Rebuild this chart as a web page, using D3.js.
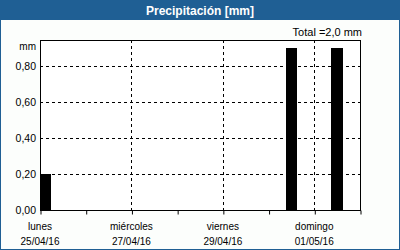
<!DOCTYPE html>
<html>
<head>
<meta charset="utf-8">
<script src="https://d3js.org/d3.v7.min.js"></script>
<style>
  body { margin: 0; background: #fff; }
  text { font-family: "Liberation Sans", Arial, sans-serif; }
</style>
</head>
<body>
<svg id="chart" width="400" height="250"></svg>
<script>
// data
var barTimes = ["2016-04-25T03:00", "2016-04-30T12:00", "2016-05-01T12:00"];
var barValues = [0.2, 0.9, 0.9];
var dayNames = ["lunes", "miércoles", "viernes", "domingo"];
var dayDates = ["25/04/16", "27/04/16", "29/04/16", "01/05/16"];
var labelDays = ["2016-04-25", "2016-04-27", "2016-04-29", "2016-05-01"];
var yTicks = [0, 0.2, 0.4, 0.6, 0.8];
var totalText = "Total =2,0 mm";

var svg = d3.select("#chart"),
  width = +svg.attr("width"),
  height = +svg.attr("height");

var parse = d3.timeParse("%Y-%m-%dT%H:%M");
var parseDay = d3.timeParse("%Y-%m-%d");

var plot = { left: 40, right: 360, top: 40, bottom: 210 };

var x = d3.scaleTime()
  .domain([parseDay("2016-04-25"), parseDay("2016-05-02")])
  .range([plot.left, plot.right]);
var y = d3.scaleLinear()
  .domain([0, 0.945])
  .range([plot.bottom, plot.top]);

var comma = function(v) { return d3.format(".2f")(v).replace(".", ","); };

// frame and title bar
svg.append("rect").attr("x", 0.5).attr("y", 0.5).attr("width", width - 1).attr("height", height - 1)
  .attr("fill", "#fcfefc").attr("stroke", "#1f5f94");
svg.append("rect").attr("x", 0).attr("y", 0).attr("width", width).attr("height", 20)
  .attr("fill", "#1f5f94");
svg.append("text").attr("x", width / 2).attr("y", 14.5).attr("text-anchor", "middle")
  .attr("fill", "#fff").style("font-weight", "bold").style("font-size", "12px")
  .text("Precipitación [mm]");

svg.append("text").attr("x", 362).attr("y", 36).attr("text-anchor", "end")
  .style("font-size", "11px").attr("fill", "#000").text(totalText);

// plot background
svg.append("rect").attr("x", plot.left).attr("y", plot.top)
  .attr("width", plot.right - plot.left).attr("height", plot.bottom - plot.top)
  .attr("fill", "#fff");

// horizontal grid
svg.append("g").selectAll("line").data(yTicks.filter(function(d) { return d > 0; }))
  .enter().append("line")
  .attr("x1", plot.left).attr("x2", plot.right)
  .attr("y1", function(d) { return Math.round(y(d)) + 0.5; })
  .attr("y2", function(d) { return Math.round(y(d)) + 0.5; })
  .attr("stroke", "#000").attr("stroke-dasharray", "3,3");

// vertical grid at labelled days
svg.append("g").selectAll("line").data(labelDays.slice(1))
  .enter().append("line")
  .attr("x1", function(d) { return Math.round(x(parseDay(d))) + 0.5; })
  .attr("x2", function(d) { return Math.round(x(parseDay(d))) + 0.5; })
  .attr("y1", plot.top).attr("y2", plot.bottom)
  .attr("stroke", "#000").attr("stroke-dasharray", "3,3");

// bars, 6 hours wide
var halfBar = 3 * 3600 * 1000;
svg.append("g").selectAll("rect").data(barTimes)
  .enter().append("rect")
  .attr("x", function(d) { return Math.round(x(new Date(parse(d) - halfBar))); })
  .attr("width", function(d) {
    return Math.round(x(new Date(+parse(d) + halfBar))) - Math.round(x(new Date(parse(d) - halfBar)));
  })
  .attr("y", function(d, i) { return Math.round(y(barValues[i])); })
  .attr("height", function(d, i) { return plot.bottom - Math.round(y(barValues[i])); })
  .attr("fill", "#000");

// plot box
svg.append("rect").attr("x", plot.left + 0.5).attr("y", plot.top + 0.5)
  .attr("width", plot.right - plot.left).attr("height", plot.bottom - plot.top)
  .attr("fill", "none").attr("stroke", "#000");

// x ticks every day
var xAxis = d3.axisBottom(x).ticks(d3.timeDay.every(1)).tickSize(4).tickFormat("");
var gx = svg.append("g").attr("transform", "translate(0.5," + (plot.bottom + 0.5) + ")").call(xAxis);
gx.select(".domain").remove();

// x labels
var xl = svg.append("g").selectAll("text").data(labelDays).enter();
xl.append("text").attr("x", function(d) { return x(parseDay(d)); }).attr("y", 230)
  .attr("text-anchor", "middle").style("font-size", "10px")
  .text(function(d, i) { return dayNames[i]; });
xl.append("text").attr("x", function(d) { return x(parseDay(d)); }).attr("y", 245)
  .attr("text-anchor", "middle").style("font-size", "10px")
  .text(function(d, i) { return dayDates[i]; });

// y labels
svg.append("g").selectAll("text").data(yTicks).enter().append("text")
  .attr("x", 36).attr("y", function(d) { return y(d) + 4; })
  .attr("text-anchor", "end").style("font-size", "10.5px")
  .text(comma);
svg.append("text").attr("x", 36).attr("y", 50).attr("text-anchor", "end")
  .style("font-size", "10px").text("mm");
</script>
</body>
</html>
